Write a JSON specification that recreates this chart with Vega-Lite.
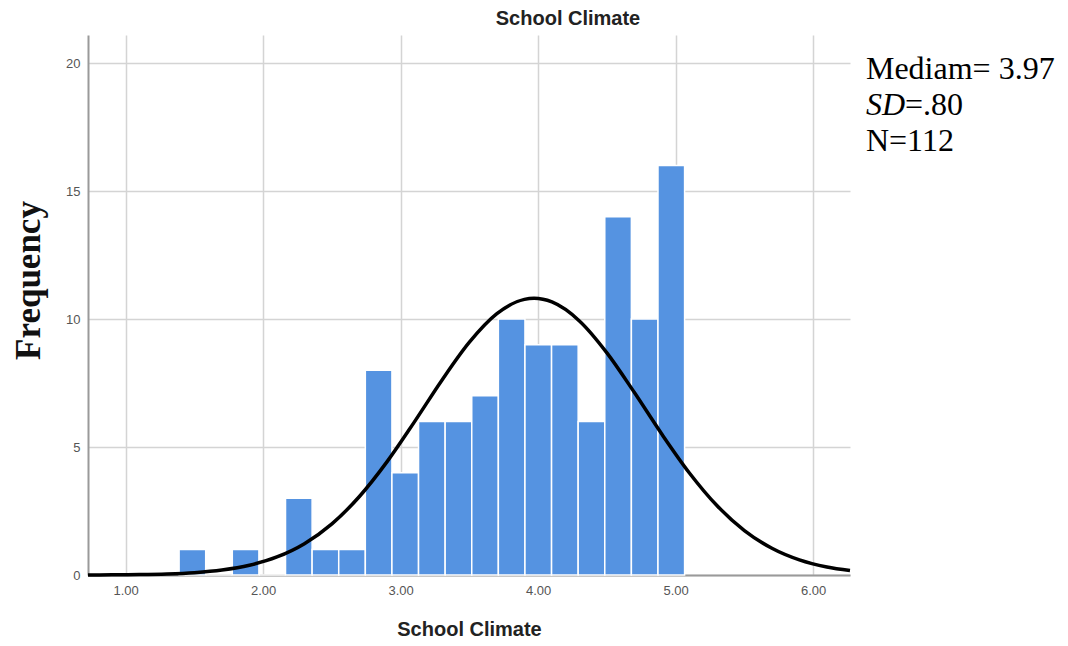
{
  "$schema": "https://vega.github.io/schema/vega-lite/v6.json",
  "autosize": {"type": "none"},
  "padding": {"left": 88, "top": 35, "right": 218, "bottom": 71},
  "width": 762,
  "height": 540,
  "background": "white",
  "config": {
    "view": {"stroke": null},
    "font": "Liberation Sans"
  },
  "title": {
    "text": "School Climate",
    "fontSize": 20,
    "fontWeight": "bold",
    "font": "Liberation Sans",
    "color": "#222222",
    "anchor": "middle",
    "dx": 99,
    "offset": 6
  },
  "datasets": {
    "bins": [
      {"bin_start": 1.3885, "bin_end": 1.582, "count": 1},
      {"bin_start": 1.582, "bin_end": 1.7755, "count": 0},
      {"bin_start": 1.7755, "bin_end": 1.969, "count": 1},
      {"bin_start": 1.969, "bin_end": 2.1625, "count": 0},
      {"bin_start": 2.1625, "bin_end": 2.356, "count": 3},
      {"bin_start": 2.356, "bin_end": 2.5495, "count": 1},
      {"bin_start": 2.5495, "bin_end": 2.743, "count": 1},
      {"bin_start": 2.743, "bin_end": 2.9365, "count": 8},
      {"bin_start": 2.9365, "bin_end": 3.13, "count": 4},
      {"bin_start": 3.13, "bin_end": 3.3235, "count": 6},
      {"bin_start": 3.3235, "bin_end": 3.517, "count": 6},
      {"bin_start": 3.517, "bin_end": 3.7105, "count": 7},
      {"bin_start": 3.7105, "bin_end": 3.904, "count": 10},
      {"bin_start": 3.904, "bin_end": 4.0975, "count": 9},
      {"bin_start": 4.0975, "bin_end": 4.291, "count": 9},
      {"bin_start": 4.291, "bin_end": 4.4845, "count": 6},
      {"bin_start": 4.4845, "bin_end": 4.678, "count": 14},
      {"bin_start": 4.678, "bin_end": 4.8715, "count": 10},
      {"bin_start": 4.8715, "bin_end": 5.065, "count": 16}
    ],
    "curve": [
      {"x": 0.726, "y": 0.003},
      {"x": 0.9, "y": 0.007},
      {"x": 1.1, "y": 0.017},
      {"x": 1.3, "y": 0.041},
      {"x": 1.5, "y": 0.092},
      {"x": 1.7, "y": 0.193},
      {"x": 1.9, "y": 0.38},
      {"x": 2.1, "y": 0.704},
      {"x": 2.3, "y": 1.224},
      {"x": 2.5, "y": 1.999},
      {"x": 2.7, "y": 3.067},
      {"x": 2.9, "y": 4.419},
      {"x": 3.1, "y": 5.984},
      {"x": 3.3, "y": 7.612},
      {"x": 3.5, "y": 9.097},
      {"x": 3.7, "y": 10.211},
      {"x": 3.9, "y": 10.769},
      {"x": 3.97, "y": 10.81},
      {"x": 4.1, "y": 10.668},
      {"x": 4.3, "y": 9.928},
      {"x": 4.5, "y": 8.68},
      {"x": 4.7, "y": 7.129},
      {"x": 4.9, "y": 5.5},
      {"x": 5.1, "y": 3.987},
      {"x": 5.3, "y": 2.714},
      {"x": 5.5, "y": 1.736},
      {"x": 5.7, "y": 1.043},
      {"x": 5.9, "y": 0.589},
      {"x": 6.1, "y": 0.312},
      {"x": 6.268, "y": 0.174}
    ],
    "notes": [
      {"label": "Mediam= 3.97", "px": 6.384, "py": 19.38},
      {"label": "N=112", "px": 6.384, "py": 16.57}
    ],
    "sd1": [{"label": "SD", "px": 6.384, "py": 17.97}],
    "sd2": [{"label": "=.80", "px": 6.668, "py": 17.97}]
  },
  "layer": [
    {
      "data": {"name": "bins"},
      "mark": {"type": "rect", "color": "#5593e1", "stroke": "white", "strokeWidth": 1.5},
      "encoding": {
        "x": {
          "field": "bin_start",
          "type": "quantitative",
          "scale": {"domain": [0.726, 6.268], "nice": false, "zero": false},
          "axis": {
            "values": [1, 2, 3, 4, 5, 6],
            "format": ".2f",
            "title": "School Climate",
            "titleFontSize": 20,
            "titleFontWeight": "bold",
            "titleColor": "#222222",
            "titlePadding": 22,
            "labelFontSize": 13,
            "labelColor": "#555555",
            "labelPadding": 9,
            "ticks": false,
            "domainColor": "#9a9a9a",
            "domainWidth": 2,
            "gridColor": "#d4d4d4",
            "gridWidth": 1.5
          }
        },
        "x2": {"field": "bin_end"},
        "y": {
          "field": "count",
          "type": "quantitative",
          "scale": {"domain": [0, 21.1], "nice": false},
          "axis": {
            "values": [0, 5, 10, 15, 20],
            "title": "Frequency",
            "titleFont": "Liberation Serif",
            "titleFontSize": 35,
            "titleFontWeight": "bold",
            "titleColor": "#111111",
            "titleAngle": -90,
            "titleBaseline": "middle",
            "titleAlign": "center",
            "titleX": -60,
            "titleY": 245,
            "labelFontSize": 13,
            "labelColor": "#555555",
            "labelPadding": 8,
            "ticks": false,
            "domainColor": "#9a9a9a",
            "domainWidth": 2,
            "gridColor": "#d4d4d4",
            "gridWidth": 1.5
          }
        },
        "y2": {"datum": 0}
      }
    },
    {
      "data": {"name": "curve"},
      "mark": {"type": "line", "color": "black", "strokeWidth": 3.5, "interpolate": "monotone"},
      "encoding": {
        "x": {"field": "x", "type": "quantitative"},
        "y": {"field": "y", "type": "quantitative"}
      }
    },
    {
      "data": {"name": "notes"},
      "mark": {"type": "text", "font": "Liberation Serif", "fontSize": 32, "align": "left", "baseline": "alphabetic", "color": "black"},
      "encoding": {
        "x": {"field": "px", "type": "quantitative"},
        "y": {"field": "py", "type": "quantitative"},
        "text": {"field": "label"}
      }
    },
    {
      "data": {"name": "sd1"},
      "mark": {"type": "text", "font": "Liberation Serif", "fontSize": 32, "fontStyle": "italic", "align": "left", "baseline": "alphabetic", "color": "black"},
      "encoding": {
        "x": {"field": "px", "type": "quantitative"},
        "y": {"field": "py", "type": "quantitative"},
        "text": {"field": "label"}
      }
    },
    {
      "data": {"name": "sd2"},
      "mark": {"type": "text", "font": "Liberation Serif", "fontSize": 32, "align": "left", "baseline": "alphabetic", "color": "black"},
      "encoding": {
        "x": {"field": "px", "type": "quantitative"},
        "y": {"field": "py", "type": "quantitative"},
        "text": {"field": "label"}
      }
    }
  ]
}
